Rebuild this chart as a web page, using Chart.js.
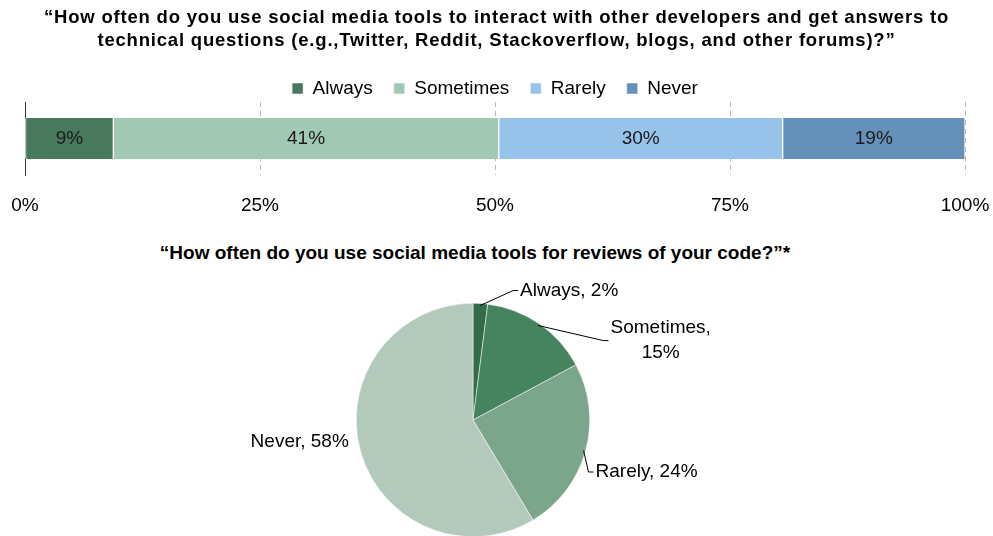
<!DOCTYPE html>
<html>
<head>
<meta charset="utf-8">
<script src="https://cdn.jsdelivr.net/npm/chart.js@4.4.0/dist/chart.umd.min.js"></script>
<style>
  html, body { margin: 0; padding: 0; background: #fff; overflow: hidden; }
  #wrap { position: relative; width: 993px; height: 536px; font-family: 'Liberation Sans', Arial, sans-serif; }
  .title { position: absolute; left: 0; text-align: center; font-weight: bold; color: #000; }
  #title1 { top: 5px; width: 993px; font-size: 18.5px; line-height: 23px; letter-spacing: 0.8px; }
  #title2 { top: 242px; width: 950px; font-size: 19px; line-height: 22px; }
  #barBox { position: absolute; left: 0; top: 0; width: 993px; height: 236px; }
  #pieBox { position: absolute; left: 0; top: 270px; width: 946px; height: 270px; }
</style>
</head>
<body>
<div id="wrap">
  <div id="barBox"><canvas id="bar-chart"></canvas></div>
  <div id="pieBox"><canvas id="pie-chart"></canvas></div>
  <div class="title" id="title1">&ldquo;How often do you use social media tools to interact with other developers and get answers to<br>technical questions (e.g.,Twitter, Reddit, Stackoverflow, blogs, and other forums)?&rdquo;</div>
  <div class="title" id="title2">&ldquo;How often do you use social media tools for reviews of your code?&rdquo;*</div>
</div>
<script>
// top question: stacked bar
var barCategories = ["Always", "Sometimes", "Rarely", "Never"];
var barValues = [9.4, 41, 30.2, 19.4];
var barColors = ["#48795c", "#a1c8b3", "#97c2ea", "#6490b9"];
var xTicks = [0, 25, 50, 75, 100];

// second question: pie
var pieCategories = ["Always", "Sometimes", "Rarely", "Never"];
var pieValues = [2, 15, 24, 58];
var pieColors = ["#336b4b", "#46845f", "#7ba68b", "#b3c9bc"];

Chart.defaults.font.family = "'Liberation Sans', Arial, sans-serif";
Chart.defaults.color = "#000";

var barLabels = {
    id: 'barLabels',
    afterDatasetsDraw: function(chart) {
        var ctx = chart.ctx;
        ctx.save();
        ctx.font = "19px 'Liberation Sans', Arial, sans-serif";
        ctx.fillStyle = "#1a1a1a";
        ctx.textAlign = "center";
        ctx.textBaseline = "middle";
        chart.data.datasets.forEach(function(ds, i) {
            var el = chart.getDatasetMeta(i).data[0];
            var c = el.getCenterPoint();
            ctx.fillText(Math.round(ds.data[0]) + "%", c.x, c.y);
        });
        ctx.restore();
    }
};

var barDatasets = barCategories.map(function(name, i) {
    return {
        label: name,
        data: [barValues[i]],
        backgroundColor: barColors[i],
        borderColor: "#fff",
        borderWidth: {left: 1, right: 1, top: 0, bottom: 0},
        borderSkipped: false,
        barThickness: 41
    };
});

var barChart = new Chart(document.getElementById("bar-chart"), {
    type: 'bar',
    data: { labels: [""], datasets: barDatasets },
    options: {
        indexAxis: 'y',
        responsive: true,
        maintainAspectRatio: false,
        animation: false,
        layout: { padding: { left: 25, right: 28, top: 58 } },
        plugins: {
            legend: {
                maxHeight: 44,
                labels: {
                    boxWidth: 11,
                    boxHeight: 11,
                    padding: 21,
                    font: { size: 19 },
                    color: "#000"
                }
            },
            tooltip: { enabled: false }
        },
        scales: {
            x: {
                stacked: true,
                min: 0,
                max: 100,
                afterBuildTicks: function(scale) {
                    scale.ticks = xTicks.map(function(v) { return { value: v }; });
                },
                afterFit: function(scale) {
                    scale.paddingLeft = 0;
                    scale.paddingRight = 0;
                },
                ticks: {
                    padding: 19,
                    font: { size: 19 },
                    color: "#000",
                    callback: function(v) { return v + "%"; }
                },
                grid: { color: "#b8b8b8", drawTicks: false },
                border: { display: false, dash: [5, 4] }
            },
            y: {
                stacked: true,
                ticks: { display: false },
                grid: { display: false },
                border: { display: true, color: "#333", width: 1 },
                afterFit: function(scale) { scale.width = 0; }
            }
        }
    },
    plugins: [barLabels]
});

// pie labels with leader lines, placed around the slices
var pieLabelAngle = [20, 60, 113, 260];
var pieLabelRadius = [1.18, 1.36, 1.14, 1.08];

var pieLabels = {
    id: 'pieLabels',
    afterDatasetsDraw: function(chart) {
        var ctx = chart.ctx;
        var meta = chart.getDatasetMeta(0);
        ctx.save();
        ctx.font = "19px 'Liberation Sans', Arial, sans-serif";
        ctx.fillStyle = "#000";
        ctx.strokeStyle = "#000";
        ctx.lineWidth = 1;
        ctx.textBaseline = "middle";
        meta.data.forEach(function(arc, i) {
            var r = arc.outerRadius;
            var mid = (arc.startAngle + arc.endAngle) / 2;
            var ex = arc.x + Math.cos(mid) * (r - 2);
            var ey = arc.y + Math.sin(mid) * (r - 2);
            var a = (pieLabelAngle[i] - 90) * Math.PI / 180;
            var lx = arc.x + Math.cos(a) * r * pieLabelRadius[i];
            var ly = arc.y + Math.sin(a) * r * pieLabelRadius[i];
            var right = Math.cos(a) >= 0;
            var text = pieCategories[i] + ", " + pieValues[i] + "%";
            var lines = [text];
            if (ctx.measureText(text).width > 120) {
                lines = [pieCategories[i] + ",", pieValues[i] + "%"];
            }
            var d = Math.hypot(lx - ex, ly - ey);
            if (d > 22) {
                ctx.beginPath();
                ctx.moveTo(ex, ey);
                ctx.lineTo(lx - (right ? 7 : -7), ly);
                ctx.lineTo(lx - (right ? 2 : -2), ly);
                ctx.stroke();
            }
            ctx.textAlign = lines.length > 1 ? "center" : (right ? "left" : "right");
            var w = 0;
            lines.forEach(function(t) { w = Math.max(w, ctx.measureText(t).width); });
            var tx = lines.length > 1 ? lx + w / 2 : lx;
            var lh = 25;
            lines.forEach(function(t, k) {
                ctx.fillText(t, tx, ly + (k - (lines.length - 1) / 2) * lh);
            });
        });
        ctx.restore();
    }
};

var pieChart = new Chart(document.getElementById("pie-chart"), {
    type: 'pie',
    data: {
        labels: pieCategories,
        datasets: [{
            data: pieValues,
            backgroundColor: pieColors,
            borderColor: "#fff",
            borderWidth: 0.5
        }]
    },
    options: {
        responsive: true,
        maintainAspectRatio: false,
        animation: false,
        layout: { padding: { top: 33, bottom: 3 } },
        plugins: {
            legend: { display: false },
            tooltip: { enabled: false }
        }
    },
    plugins: [pieLabels]
});
</script>
</body>
</html>
